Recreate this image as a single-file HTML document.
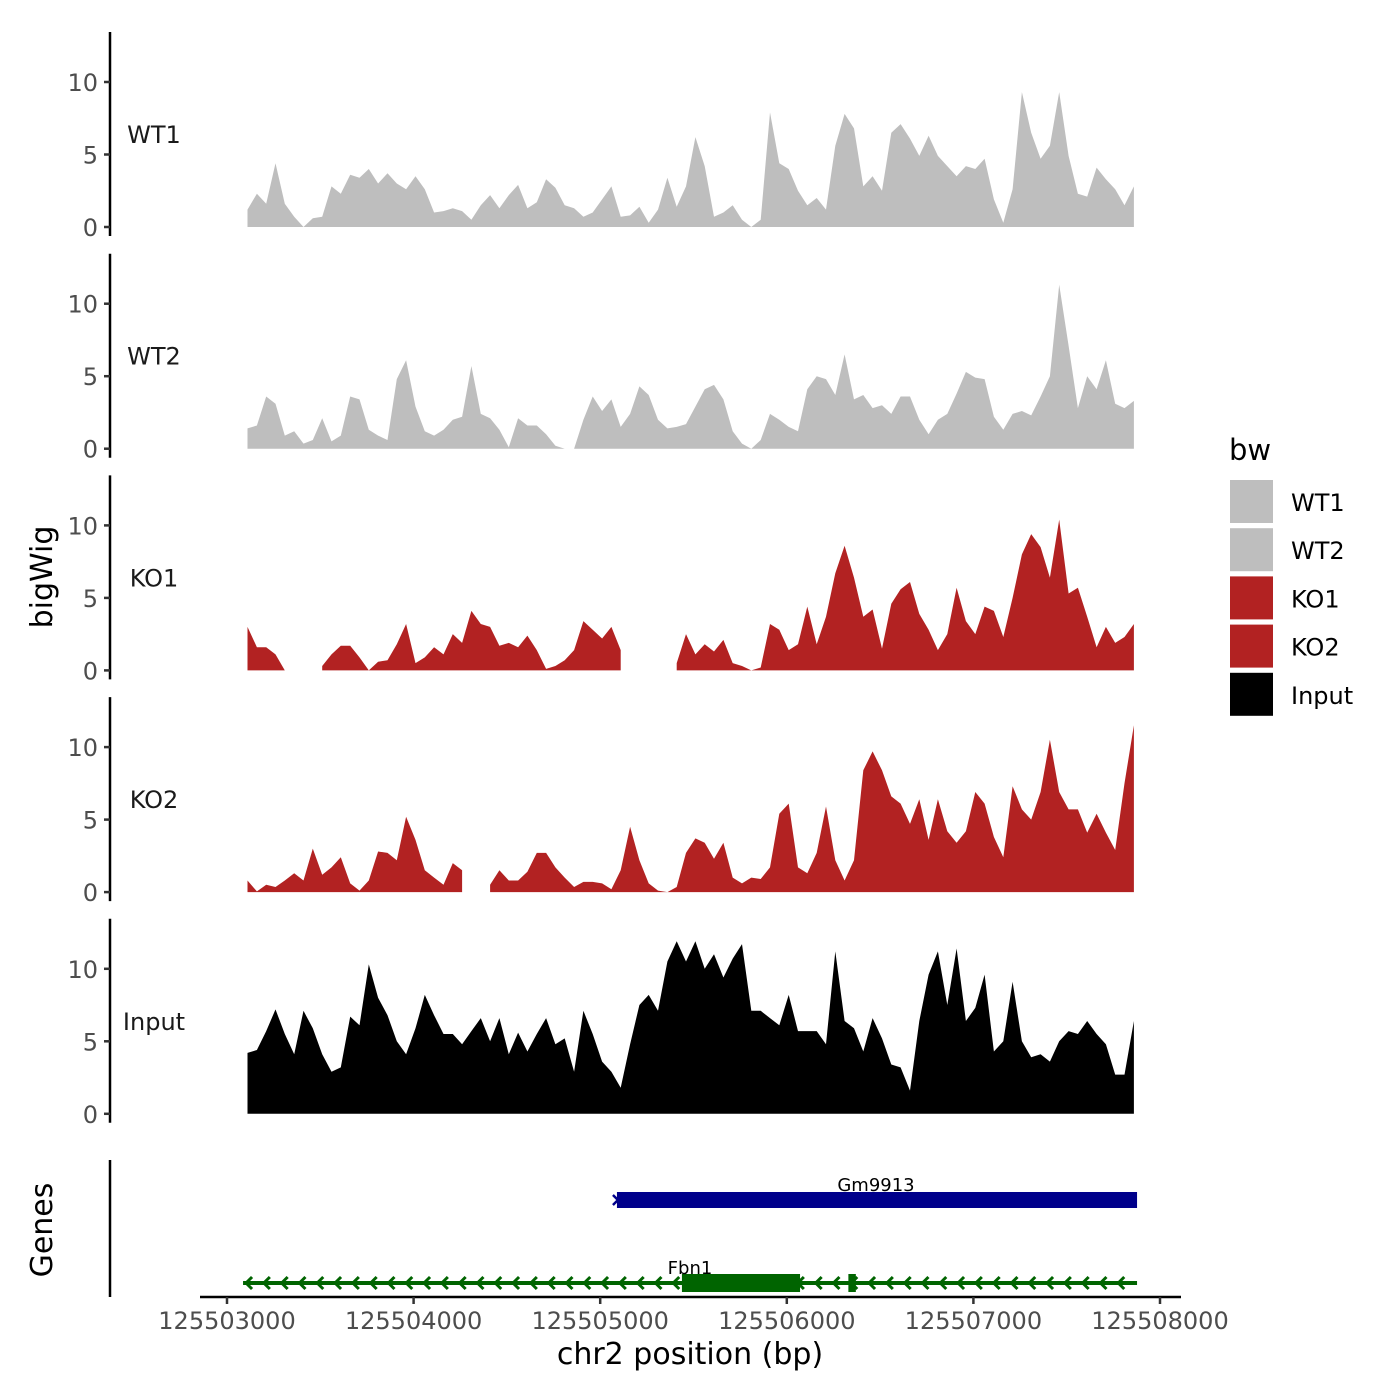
<!DOCTYPE html>
<html><head><meta charset="utf-8"><style>
html,body{margin:0;padding:0;background:#fff;}
svg{display:block;font-family:"DejaVu Sans","Liberation Sans",sans-serif;}
</style></head><body>
<svg id="chart" width="1400" height="1400" viewBox="0 0 1400 1400" xmlns="http://www.w3.org/2000/svg">
<g id="tracks"></g>
<g id="genes"></g>
<g id="axes"></g>
<text transform="translate(52,577) rotate(-90)" text-anchor="middle" font-size="30">bigWig</text>
<text transform="translate(52,1230) rotate(-90)" text-anchor="middle" font-size="30">Genes</text>
<text x="690" y="1364" text-anchor="middle" font-size="30">chr2 position (bp)</text>
<g>
<text x="1229" y="460" font-size="29">bw</text>
<g id="legendItems"></g>
</g>
</svg>
<script>
const trackNames = ["WT1","WT2","KO1","KO2","Input"];
const trackColors = ["#bebebe","#bebebe","#b22222","#b22222","#000000"];
const binStart = 125503110;
const binSize = 50;
const wt1 = [1.2,2.3,1.6,4.4,1.6,0.7,0,0.6,0.7,2.8,2.3,3.6,3.4,4.0,3.0,3.7,3.0,2.6,3.5,2.6,1.0,1.1,1.3,1.1,0.5,1.5,2.2,1.3,2.2,2.9,1.3,1.7,3.3,2.7,1.5,1.3,0.7,1.0,1.9,2.8,0.7,0.8,1.4,0.3,1.2,3.4,1.4,2.8,6.2,4.2,0.7,1.0,1.5,0.5,0,0.5,7.9,4.4,4.0,2.5,1.5,2.0,1.2,5.6,7.8,6.8,2.8,3.5,2.5,6.5,7.1,6.1,4.9,6.3,4.9,4.2,3.5,4.2,4.0,4.7,1.9,0.3,2.6,9.3,6.5,4.7,5.6,9.3,4.9,2.3,2.1,4.1,3.3,2.6,1.5,2.8];
const wt2 = [1.4,1.6,3.6,3.1,0.9,1.2,0.35,0.6,2.1,0.5,0.9,3.6,3.4,1.3,0.9,0.6,4.8,6.1,2.9,1.2,0.9,1.3,2.0,2.2,5.7,2.4,2.1,1.3,0.1,2.1,1.6,1.6,1.0,0.2,0,0,2.0,3.6,2.6,3.4,1.5,2.4,4.3,3.7,2.0,1.4,1.5,1.7,2.9,4.1,4.4,3.4,1.2,0.35,0,0.6,2.4,2.0,1.5,1.2,4.1,5.0,4.8,3.7,6.5,3.4,3.7,2.8,3.0,2.4,3.6,3.6,2.0,1.0,2.0,2.4,3.8,5.3,4.9,4.8,2.2,1.3,2.4,2.6,2.3,3.6,5.0,11.3,7.1,2.8,5.0,4.1,6.1,3.1,2.8,3.3];
const ko1 = [3.0,1.6,1.6,1.1,0,null,null,null,0.3,1.1,1.7,1.7,0.9,0,0.6,0.7,1.8,3.2,0.5,0.9,1.6,1.1,2.5,1.9,4.1,3.2,3.0,1.7,1.9,1.6,2.4,1.4,0.1,0.3,0.7,1.4,3.4,2.8,2.2,3.0,1.4,null,null,null,null,null,0.5,2.5,1.1,1.8,1.3,2.1,0.5,0.3,0,0.2,3.2,2.8,1.4,1.8,4.4,1.8,3.7,6.7,8.6,6.4,3.7,4.2,1.5,4.6,5.6,6.1,3.9,2.8,1.4,2.5,5.7,3.4,2.5,4.4,4.1,2.3,5.0,8.0,9.4,8.5,6.4,10.4,5.3,5.7,3.7,1.6,3.0,1.9,2.3,3.2];
const ko2 = [0.8,0.05,0.5,0.35,0.8,1.3,0.8,3.0,1.2,1.7,2.4,0.6,0.1,0.8,2.8,2.7,2.2,5.2,3.6,1.5,1.0,0.5,2.0,1.5,null,null,0.5,1.5,0.8,0.8,1.4,2.7,2.7,1.7,1.0,0.35,0.7,0.7,0.6,0.2,1.5,4.5,2.2,0.6,0.1,0,0.35,2.7,3.7,3.4,2.3,3.4,1.0,0.6,1.0,0.9,1.7,5.4,6.1,1.7,1.3,2.7,5.9,2.2,0.8,2.2,8.4,9.7,8.4,6.6,6.1,4.7,6.4,3.6,6.4,4.2,3.4,4.2,6.9,6.1,3.8,2.4,7.3,5.7,5.0,6.9,10.5,6.9,5.7,5.7,4.1,5.4,4.1,2.9,7.5,11.5];
const inputSig = [4.2,4.4,5.7,7.2,5.5,4.1,7.1,5.9,4.1,2.9,3.2,6.7,6.1,10.3,8.0,6.8,5.0,4.1,5.9,8.2,6.8,5.5,5.5,4.8,5.7,6.6,5.0,6.6,4.1,5.6,4.3,5.5,6.6,4.8,5.2,2.9,7.1,5.5,3.6,2.9,1.8,4.8,7.5,8.2,7.1,10.5,11.9,10.5,11.9,10.0,11.0,9.4,10.7,11.7,7.1,7.1,6.6,6.1,8.2,5.7,5.7,5.7,4.8,11.2,6.4,5.9,4.3,6.6,5.2,3.4,3.2,1.6,6.4,9.6,11.2,7.5,11.4,6.4,7.3,9.6,4.3,5.0,9.1,5.0,3.9,4.1,3.6,5.0,5.7,5.5,6.4,5.5,4.8,2.7,2.7,6.4];
const trackValues = [wt1, wt2, ko1, ko2, inputSig];
const yTicks = [0,5,10];
const xTicks = [125503000,125504000,125505000,125506000,125507000,125508000];
const geneNames = ["Gm9913","Fbn1"];
const geneStarts = [125505079,125503086];
const geneEnds = [125507877,125507877];
const geneStrands = ["+","-"];
const fbn1ExonStarts = [125505438,125506330];
const fbn1ExonEnds = [125506071,125506370];

const NS="http://www.w3.org/2000/svg";
function X(bp){return 227 + (bp-125503000)*933/5000;}
const base0=227, step=221.7, unit=14.5;
function Y(i,v){return base0+step*i - v*unit;}
function mk(tag,attrs,parent){const e=document.createElementNS(NS,tag);for(const k in attrs)e.setAttribute(k,attrs[k]);parent.appendChild(e);return e;}
const tracks=document.getElementById('tracks');
const axes=document.getElementById('axes');
trackValues.forEach((vals,i)=>{
  const g=mk('g',{},tracks);
  
  
  let d='', seg=[];
  const flush=()=>{ if(seg.length){ const b=Y(i,0); d+='M'+seg[0][0]+','+b+seg.map(p=>'L'+p[0]+','+p[1]).join('')+'L'+seg[seg.length-1][0]+','+b+'Z'; seg=[];} };
  vals.forEach((v,j)=>{ if(v===null){flush();} else seg.push([X(binStart+j*binSize).toFixed(1),Y(i,v).toFixed(1)]); });
  flush();
  const p=mk('path',{d:d,fill:trackColors[i]},g);
  
  
  const b=Y(i,0);
  const ax=mk('line',{x1:110,x2:110,y1:b-195,y2:b+9,stroke:'#000','stroke-width':2.5},axes);
  
  
  yTicks.forEach(t=>{
    mk('line',{x1:104,x2:110,y1:Y(i,t),y2:Y(i,t),stroke:'#333','stroke-width':2.5},axes);
    const tl=mk('text',{x:98,y:Y(i,t)+9,'text-anchor':'end','font-size':24,fill:'#4d4d4d'},axes);
    
    
    tl.textContent=t;
  });
  const lab=mk('text',{x:154,y:b-84,'text-anchor':'middle','font-size':24,fill:'#1a1a1a'},axes);
  
  
  lab.textContent=trackNames[i];
});
const ga=mk('line',{x1:110,x2:110,y1:1160,y2:1297,stroke:'#000','stroke-width':2.5},axes);


const xa=mk('line',{x1:200,x2:1181,y1:1297,y2:1297,stroke:'#000','stroke-width':2.5},axes);


xTicks.forEach(t=>{
  mk('line',{x1:X(t),x2:X(t),y1:1297,y2:1304,stroke:'#333','stroke-width':2.5},axes);
  const tl=mk('text',{x:X(t),y:1329,'text-anchor':'middle','font-size':24,fill:'#4d4d4d'},axes);
  
  
  tl.textContent=t;
});
const genes=document.getElementById('genes');
{
  const g=mk('g',{},genes);
  
  
  const x1=X(geneStarts[0]),x2=X(geneEnds[0]);
  mk('rect',{x:x1+2,y:1192,width:x2-x1-2,height:16,fill:'#00008b'},g);
  mk('path',{d:`M${x1-2},1195 L${x1+3},1200 L${x1-2},1205`,fill:'none',stroke:'#00008b','stroke-width':2.5},g);
  const t=mk('text',{x:(x1+x2)/2,y:1191,'text-anchor':'middle','font-size':18,fill:'#000'},g);
  
  
  t.textContent=geneNames[0];
}
{
  const g=mk('g',{},genes);
  
  
  const x1=X(geneStarts[1]),x2=X(geneEnds[1]);
  mk('line',{x1:x1,x2:x2,y1:1283,y2:1283,stroke:'#006400','stroke-width':4},g);
  let d='';
  for(let x=x1+3;x<x2-4;x+=17.8){d+=`M${x+6},1277 L${x},1283 L${x+6},1289 `;}
  mk('path',{d:d,fill:'none',stroke:'#006400','stroke-width':3},g);
  fbn1ExonStarts.forEach((s,k)=>{
    const e=mk('rect',{x:X(s),y:1274,width:X(fbn1ExonEnds[k])-X(s),height:18,fill:'#006400'},g);
    
    
  });
  const t=mk('text',{x:690,y:1274,'text-anchor':'middle','font-size':18,fill:'#000'},g);
  
  
  t.textContent=geneNames[1];
}
const li=document.getElementById('legendItems');
trackNames.forEach((n,i)=>{
  const y=480+48.2*i;
  const r=mk('rect',{x:1230,y:y,width:43,height:43,fill:trackColors[i]},li);
  
  
  const t=mk('text',{x:1291,y:y+31,'font-size':24,fill:'#000'},li);
  
  
  t.textContent=n;
});
</script>
</body></html>
